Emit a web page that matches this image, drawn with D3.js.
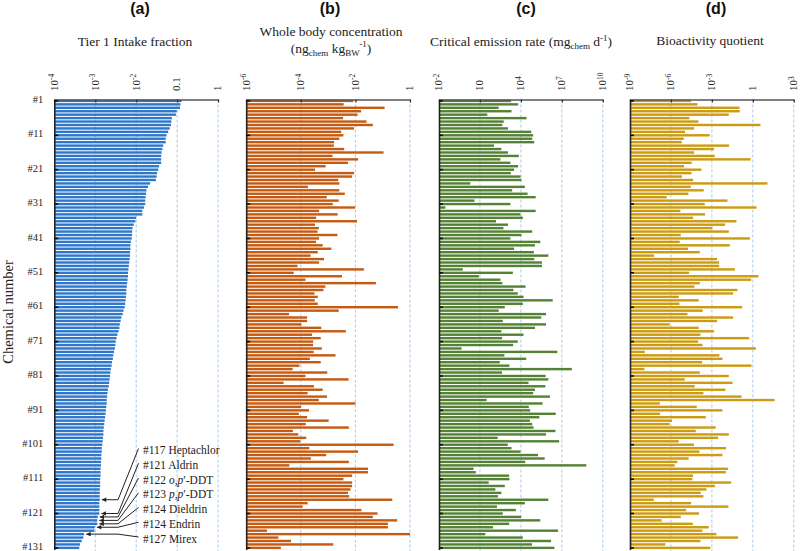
<!DOCTYPE html>
<html>
<head>
<meta charset="utf-8">
<script src="https://cdn.jsdelivr.net/npm/d3@7"></script>
<style>
  body { margin: 0; background: #fff; }
  svg { display: block; font-family: "Liberation Serif", "Times New Roman", serif; }
</style>
</head>
<body>
<div id="chart"></div>
<script>
// chemical numbers #1..#131 (sorted by intake fraction)
const chemicalNumbers = d3.range(1, 132);

// values are log10 of the quantity
const intakeFractionLog = [
  -0.89, -0.92, -0.93, -1.01, -1.03, -1.13, -1.14, -1.15, -1.18, -1.22,
  -1.26, -1.28, -1.28, -1.34, -1.36, -1.38, -1.39, -1.39, -1.39, -1.44,
  -1.46, -1.49, -1.50, -1.52, -1.66, -1.71, -1.75, -1.76, -1.77, -1.78,
  -1.78, -1.81, -1.85, -1.85, -2.00, -2.02, -2.06, -2.09, -2.10, -2.10,
  -2.11, -2.13, -2.14, -2.14, -2.15, -2.15, -2.16, -2.17, -2.18, -2.19,
  -2.20, -2.20, -2.21, -2.22, -2.23, -2.24, -2.24, -2.25, -2.26, -2.27,
  -2.28, -2.31, -2.33, -2.36, -2.38, -2.40, -2.41, -2.43, -2.46, -2.48,
  -2.50, -2.51, -2.52, -2.54, -2.56, -2.57, -2.59, -2.60, -2.62, -2.63,
  -2.64, -2.65, -2.66, -2.67, -2.69, -2.70, -2.71, -2.72, -2.72, -2.73,
  -2.74, -2.75, -2.76, -2.77, -2.78, -2.79, -2.80, -2.80, -2.81, -2.82,
  -2.83, -2.84, -2.84, -2.85, -2.85, -2.86, -2.86, -2.87, -2.87, -2.87,
  -2.88, -2.88, -2.88, -2.89, -2.89, -2.89, -2.89, -2.90, -2.90, -2.90,
  -2.90, -2.94, -2.95, -2.95, -3.01, -3.02, -3.27, -3.29, -3.33, -3.37,
  -3.39
];

const bodyConcLog = [
  -2.08, -2.43, -0.93, -1.79, -1.92, -2.45, -1.59, -1.36, -2.05, -2.52,
  -2.44, -2.59, -2.78, -2.79, -2.41, -0.97, -2.84, -1.90, -2.27, -3.09,
  -3.48, -2.05, -2.12, -2.63, -2.59, -3.74, -2.59, -2.39, -3.05, -2.61,
  -2.83, -2.01, -3.33, -2.65, -3.44, -1.94, -3.48, -3.34, -3.39, -2.66,
  -3.33, -3.44, -3.20, -2.88, -3.38, -3.64, -3.15, -3.33, -4.12, -1.69,
  -4.26, -2.49, -3.83, -1.25, -3.10, -3.17, -3.50, -3.38, -3.49, -3.38,
  -0.44, -2.61, -4.43, -3.77, -3.77, -3.98, -3.25, -2.35, -3.59, -3.27,
  -3.55, -3.55, -3.23, -3.53, -2.73, -3.67, -3.27, -4.05, -4.30, -3.03,
  -3.83, -2.25, -4.63, -3.52, -3.20, -3.75, -3.04, -3.34, -2.00, -3.99,
  -3.70, -4.07, -3.77, -2.98, -3.82, -2.24, -4.29, -4.09, -3.80, -4.02,
  -0.60, -3.69, -1.90, -3.07, -3.63, -2.24, -4.42, -1.54, -1.54, -2.12,
  -2.44, -2.12, -2.12, -2.18, -2.27, -2.23, -0.65, -3.75, -3.93, -1.78,
  -1.19, -1.36, -0.47, -0.81, -0.81, -5.24, 0.00, -4.82, -4.36, -2.81,
  -4.73
];

const emissionRateLog = [
  3.28, 3.80, 2.37, 3.31, 1.54, 4.41, 2.74, 2.64, 3.06, 4.76,
  4.90, 4.83, 4.98, 2.03, 2.57, 3.06, 3.85, 2.50, 3.23, 3.80,
  3.50, 3.26, 3.97, 4.04, 0.29, 4.29, 3.36, 4.49, 5.08, 0.60,
  3.23, -1.53, 5.08, 3.97, 4.14, 2.18, 3.06, 2.72, 4.83, 4.04,
  3.23, 5.42, 5.03, 3.50, 4.95, 6.01, 4.98, 5.54, 5.54, -0.26,
  3.41, 0.92, 2.50, 2.64, 4.34, 3.45, 3.77, 4.19, 6.33, 4.14,
  2.82, 2.37, 5.84, 5.49, 2.67, 5.84, 5.03, 2.57, 4.19, 2.62,
  3.77, 3.43, -0.35, 6.67, 2.79, 4.39, 2.45, 3.16, 7.73, 2.62,
  5.81, 6.01, 4.56, 5.79, 5.03, 4.90, 6.13, 1.49, 5.59, 4.58,
  4.68, 6.55, 5.35, 4.66, 4.83, 4.93, 6.53, 5.84, 2.30, 6.80,
  3.04, 3.31, 3.97, 5.25, 5.74, 4.31, 8.79, 0.53, 0.70, 3.14,
  3.16, 1.64, 2.82, 2.13, 2.57, 2.32, 6.01, 4.29, 2.25, 3.63,
  2.67, 4.02, 5.42, 3.14, 1.96, 6.72, 1.39, 4.14, 6.21, 4.81,
  6.45
];

const bioQuotientLog = [
  -4.53, -4.06, -0.98, -0.96, -1.76, -4.65, -3.99, 0.56, -4.31, -4.97,
  -3.16, -5.06, -5.21, -1.74, -2.84, -4.31, -2.79, -0.17, -4.48, -5.04,
  -3.77, -4.50, -5.19, -4.38, 1.07, -4.55, -3.60, -4.72, -6.31, -1.86,
  -3.52, 0.27, -5.31, -3.50, -4.38, -1.20, -2.03, -2.96, -1.76, -5.28,
  -0.22, -5.36, -1.69, -4.75, -3.89, -7.24, -2.62, -2.47, -2.47, -1.32,
  -4.67, 0.41, -0.12, -3.89, -4.28, -1.13, -1.45, -5.43, -3.96, -5.38,
  -0.78, -3.67, -4.79, -1.45, -2.62, -6.09, -3.96, -2.84, -3.84, -0.27,
  -4.01, -3.69, 0.22, -7.92, -2.45, -2.23, -3.72, -0.10, -7.95, -3.89,
  -1.76, -4.99, -1.49, -4.26, -2.01, -3.62, -0.83, 1.59, -6.82, -4.11,
  -2.23, -6.80, -3.45, -5.92, -6.09, -2.72, -4.18, -1.76, -2.55, -5.43,
  -4.31, -1.96, -3.91, -2.23, -4.70, -5.53, -5.72, -1.81, -1.98, -4.38,
  -4.43, -1.59, -2.77, -3.40, -3.82, -3.62, -7.26, -4.53, -1.79, -4.89,
  -3.94, -5.28, -6.68, -4.40, -3.23, -3.69, -2.67, -1.08, -3.84, -6.41,
  -3.11
];

// axis ticks (log10) and their labels [base, superscript]
const ticksA = [-4, -3, -2, -1, 0];
const tickLabelsA = [["10", "-4"], ["10", "-3"], ["10", "-2"], ["0.1", ""], ["1", ""]];
const ticksB = [-6, -4, -2, 0];
const tickLabelsB = [["10", "-6"], ["10", "-4"], ["10", "-2"], ["1", ""]];
const ticksC = [-2, 1, 4, 7, 10];
const tickLabelsC = [["10", "-2"], ["10", ""], ["10", "4"], ["10", "7"], ["10", "10"]];
const ticksD = [-9, -6, -3, 0, 3];
const tickLabelsD = [["10", "-9"], ["10", "-6"], ["10", "-3"], ["1", ""], ["10", "3"]];

const rowLabels = d3.range(1, 132, 10);

// annotated chemicals in panel (a); *...* is italic
const annotationText = ["#117 Heptachlor", "#121 Aldrin", "#122 *o,p*′-DDT", "#123 *p,p*′-DDT",
                        "#124 Dieldrin", "#124 Endrin", "#127 Mirex"];
const annotationRows = [117, 121, 122, 123, 124, 125, 127];

const W = 800, H = 551;
const panelLefts = [54.3, 246.2, 439, 630];
const panelW = 163.8;

const panels = [
  { tag: "(a)", values: intakeFractionLog, ticks: ticksA, labels: tickLabelsA, color: "#2e77cb" },
  { tag: "(b)", values: bodyConcLog, ticks: ticksB, labels: tickLabelsB, color: "#c55a11" },
  { tag: "(c)", values: emissionRateLog, ticks: ticksC, labels: tickLabelsC, color: "#548235" },
  { tag: "(d)", values: bioQuotientLog, ticks: ticksD, labels: tickLabelsD, color: "#cc9b12" }
];

const svg = d3.select("#chart")
  .append("svg")
  .attr("width", W)
  .attr("height", H);

const defs = svg.append("defs");
defs.append("marker")
  .attr("id", "arrow")
  .attr("viewBox", "0 0 10 10")
  .attr("refX", 10).attr("refY", 5)
  .attr("markerWidth", 5).attr("markerHeight", 4.5)
  .attr("markerUnits", "userSpaceOnUse")
  .attr("orient", "auto")
  .append("path")
  .attr("d", "M0,0L10,5L0,10z")
  .attr("fill", "#222");

const axisY = 99.5;
const y = d3.scaleBand()
  .domain(chemicalNumbers)
  .range([99.2, 549.6])
  .paddingInner(0.3)
  .paddingOuter(0.15);

const titleX = [135, 331, 521, 710];
const tagX = [140, 330, 526, 716];

panels.forEach((p, k) => {
  const x0 = panelLefts[k];
  const x = d3.scaleLog()
    .domain([10 ** p.ticks[0], 10 ** p.ticks[p.ticks.length - 1]])
    .range([x0, x0 + panelW]);

  const g = svg.append("g");

  // dashed grid lines
  g.selectAll("line.grid")
    .data(p.ticks.slice(1))
    .join("line")
    .attr("x1", d => x(10 ** d)).attr("x2", d => x(10 ** d))
    .attr("y1", axisY).attr("y2", H)
    .attr("stroke", "#a8c8ea")
    .attr("stroke-width", 1)
    .attr("stroke-dasharray", "3,2");

  // bars
  g.selectAll("rect.bar")
    .data(p.values)
    .join("rect")
    .attr("x", x.range()[0])
    .attr("y", (d, i) => y(chemicalNumbers[i]))
    .attr("width", d => x(10 ** d) - x.range()[0])
    .attr("height", y.bandwidth())
    .attr("fill", p.color);

  // top axis
  const top = g.append("g")
    .attr("transform", `translate(0, ${axisY})`)
    .call(d3.axisTop(x).tickValues(p.ticks.map(d => 10 ** d)).tickSize(-3).tickSizeOuter(0).tickFormat(""));
  top.select(".domain").attr("stroke", "#555").attr("stroke-width", 1.3);
  top.selectAll(".tick line").attr("stroke", "#333").attr("stroke-width", 1.2);
  top.selectAll(".tick text").remove();

  // rotated tick labels with superscripts
  p.ticks.forEach((t, j) => {
    const txt = g.append("text")
      .attr("transform", `translate(${x(10 ** t)}, 91) rotate(-90)`)
      .attr("text-anchor", "start")
      .attr("dy", "0.3em")
      .attr("font-size", "11px")
      .attr("fill", "#222");
    txt.append("tspan").text(p.labels[j][0]);
    if (p.labels[j][1]) {
      txt.append("tspan")
        .attr("dy", "-0.45em")
        .attr("font-size", "7.5px")
        .text(p.labels[j][1]);
    }
  });

  // left axis
  const left = g.append("g")
    .attr("transform", `translate(${x0}, 0)`)
    .call(d3.axisLeft(y).tickValues(rowLabels).tickSize(-4).tickSizeOuter(0)
      .tickFormat(k === 0 ? (d => "#" + d) : ""));
  left.select(".domain").attr("stroke", "#222").attr("stroke-width", 1.6);
  left.selectAll(".tick line").attr("stroke", "#111").attr("stroke-width", 1.6);
  left.selectAll(".tick text")
    .attr("x", -11)
    .attr("y", -1.2)
    .attr("font-family", "Liberation Serif, serif")
    .attr("font-size", "10.5px")
    .attr("fill", "#222");

  // panel tag
  svg.append("text")
    .attr("x", tagX[k]).attr("y", 14)
    .attr("text-anchor", "middle")
    .attr("font-family", "Liberation Sans, Arial, sans-serif")
    .attr("font-weight", "bold")
    .attr("font-size", "16px")
    .attr("fill", "#111")
    .text(p.tag);
});

// titles
const titleStyle = t => t.attr("text-anchor", "middle").attr("font-size", "13.5px").attr("fill", "#222");

svg.append("text").attr("x", titleX[0]).attr("y", 46).call(titleStyle).text("Tier 1 Intake fraction");

svg.append("text").attr("x", titleX[1]).attr("y", 36).call(titleStyle).text("Whole body concentration");
const tb = svg.append("text").attr("x", titleX[1]).attr("y", 53).call(titleStyle);
tb.append("tspan").text("(ng");
tb.append("tspan").attr("font-size", "9px").attr("dy", "3").text("chem");
tb.append("tspan").attr("dy", "-3").text(" kg");
tb.append("tspan").attr("font-size", "9px").attr("dy", "3").text("BW");
tb.append("tspan").attr("font-size", "9px").attr("dy", "-9").text("-1");
tb.append("tspan").attr("dy", "6").text(")");

const tc = svg.append("text").attr("x", titleX[2]).attr("y", 46).call(titleStyle);
tc.append("tspan").text("Critical emission rate (mg");
tc.append("tspan").attr("font-size", "9px").attr("dy", "3").text("chem");
tc.append("tspan").attr("dy", "-3").text(" d");
tc.append("tspan").attr("font-size", "9px").attr("dy", "-5").text("-1");
tc.append("tspan").attr("dy", "5").text(")");

svg.append("text").attr("x", titleX[3]).attr("y", 45).call(titleStyle).text("Bioactivity quotient");

// y axis title
svg.append("text")
  .attr("transform", "translate(13, 312) rotate(-90)")
  .attr("text-anchor", "middle")
  .attr("font-size", "14.5px")
  .attr("fill", "#222")
  .text("Chemical number");

// annotations in panel (a)
const xA = d3.scaleLog()
  .domain([10 ** ticksA[0], 10 ** ticksA[ticksA.length - 1]])
  .range([panelLefts[0], panelLefts[0] + panelW]);
const annTop = 450, annStep = 14.75, annTextX = 143, annBendX = 118;

annotationText.forEach((label, k) => {
  const cy = annTop + k * annStep;
  const row = annotationRows[k];
  const ry = y(row) + y.bandwidth() / 2;
  const tip = xA(10 ** intakeFractionLog[row - 1]) + 2;

  svg.append("path")
    .attr("d", d3.line()([[annTextX - 4.5, cy - 1.5], [annBendX, ry], [tip, ry]]))
    .attr("fill", "none")
    .attr("stroke", "#222")
    .attr("stroke-width", 1)
    .attr("marker-end", "url(#arrow)");

  const t = svg.append("text")
    .attr("x", annTextX).attr("y", cy + 4)
    .attr("font-size", "11.5px")
    .attr("fill", "#222");
  label.split("*").forEach((part, j) => {
    if (!part) return;
    t.append("tspan").attr("font-style", j % 2 ? "italic" : "normal").text(part);
  });
});
</script>
</body>
</html>
